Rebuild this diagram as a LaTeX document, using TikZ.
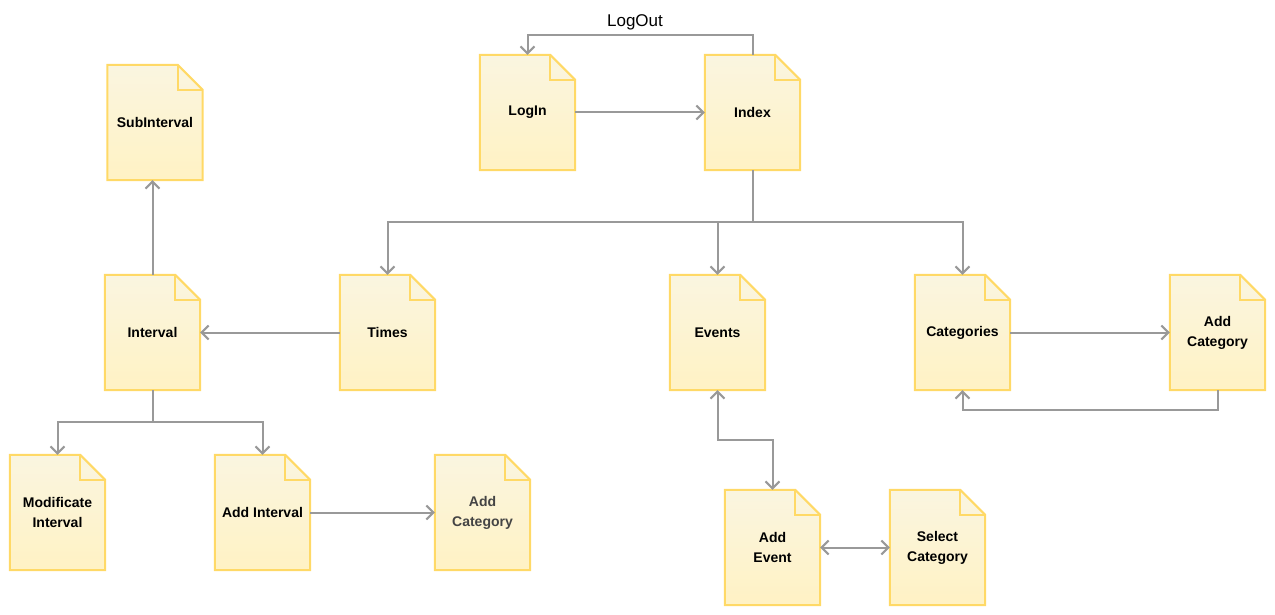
\documentclass[tikz,border=0pt]{standalone}
\usepackage{fontspec}
\setmainfont{Liberation Sans}
\usetikzlibrary{arrows.meta,backgrounds}

\definecolor{docline}{HTML}{FFD966}
\definecolor{doctop}{HTML}{FAF5E0}
\definecolor{docbottom}{HTML}{FFF2C4}
\definecolor{linkgray}{HTML}{999999}
\definecolor{fadedtext}{HTML}{444444}

\tikzset{
  doc/.style={minimum width=95pt,minimum height=115pt,inner sep=0pt,align=center,
    font=\fontsize{14}{20}\selectfont\bfseries},
  link/.style={draw=linkgray,line width=2pt,-{Straight Barb[length=7pt,width=14pt]}},
  dlink/.style={link,{Straight Barb[length=7pt,width=14pt]}-{Straight Barb[length=7pt,width=14pt]}},
  page/.style={draw=docline,line width=2pt,top color=doctop,bottom color=docbottom}
}

\begin{document}
\begin{tikzpicture}[x=1pt,y=-1pt]
\useasboundingbox (0,0) rectangle (1275,615);

% pages
\node [doc] (login) at (527.5,112.5) {LogIn};
\node [doc] (index) at (752.5,112.5) {Index};
\node [doc] (subint) at (155,122.5) {SubInterval};
\node [doc] (interval) at (152.5,332.5) {Interval};
\node [doc] (times) at (387.5,332.5) {Times};
\node [doc] (events) at (717.5,332.5) {Events};
\node [doc] (categories) at (962.5,332.5) {Categories};
\node [doc] (addcat) at (1217.5,332.5) {Add\\Category};
\node [doc] (modint) at (57.5,512.5) {Modificate\\Interval};
\node [doc] (addint) at (262.5,512.5) {Add Interval};
\node [doc,text=fadedtext] (addcatb) at (482.5,512.5) {Add\\Category};
\node [doc] (addevent) at (772.5,547.5) {Add\\Event};
\node [doc] (selcat) at (937.5,547.5) {Select\\Category};

\begin{scope}[on background layer]
\foreach \n in {login,index,subint,interval,times,events,categories,addcat,modint,addint,addcatb,addevent,selcat}
{
  \path [page] (\n.north west) -- ([xshift=-25pt]\n.north east) -- ([yshift=-25pt]\n.north east)
    -- (\n.south east) -- (\n.south west) -- cycle;
  \draw [docline,line width=2pt,line join=miter] ([xshift=-25pt]\n.north east) -- ([xshift=-25pt,yshift=-25pt]\n.north east)
    -- ([yshift=-25pt]\n.north east);
}
\end{scope}

% links
\draw [link] (login.east) -- (index.west);
\draw [link] (index.north) -- ++(0,-20) coordinate (top) -| (login.north);
\node [font=\fontsize{17}{20}\selectfont] (logout) at (635,22) {LogOut};
\draw [link] (index.south) -- ++(0,52) coordinate (split) -| (times.north);
\draw [link] (split) -| (events.north);
\draw [link] (split) -| (categories.north);
\draw [link] (times.west) -- (interval.east);
\draw [link] (interval.north) -- (interval.north |- subint.south);
\draw [link] (interval.south) -- ++(0,32) coordinate (split2) -| (modint.north);
\draw [link] (split2) -| (addint.north);
\draw [link] (addint.east) -- (addcatb.west);
\draw [link] (categories.east) -- (addcat.west);
\draw [link] (addcat.south) -- ++(0,20) -| (categories.south);
\draw [dlink] (events.south) -- ++(0,50) -| (addevent.north);
\draw [dlink] (addevent.east) -- (selcat.west);
\end{tikzpicture}
\end{document}
